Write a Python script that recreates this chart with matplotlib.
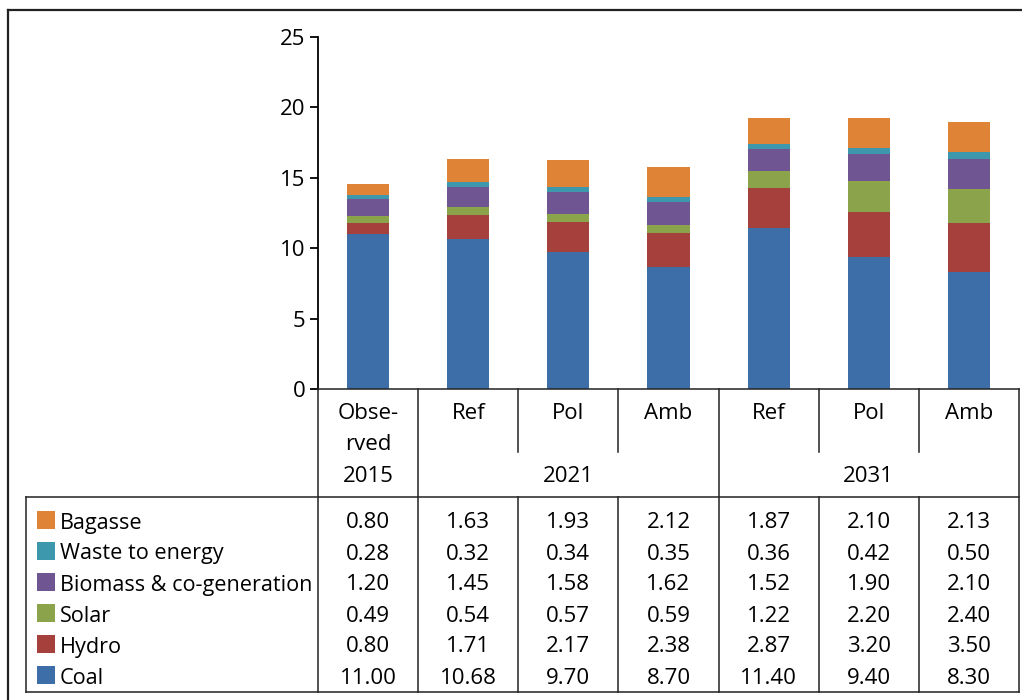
import matplotlib
matplotlib.use("Agg")
import matplotlib.pyplot as plt
from matplotlib.patches import Rectangle
import numpy as np

plt.rcParams['font.family'] = ['Open Sans', 'DejaVu Sans']

# ---- data ----
scenarios = ["Obse-\nrved", "Ref", "Pol", "Amb", "Ref", "Pol", "Amb"]
years = ["2015", "2021", "2031"]
year_spans = [(0, 1), (1, 4), (4, 7)]
series_names = ["Coal", "Hydro", "Solar", "Biomass & co-generation", "Waste to energy", "Bagasse"]
coal = [11.00, 10.68, 9.70, 8.70, 11.40, 9.40, 8.30]
hydro = [0.80, 1.71, 2.17, 2.38, 2.87, 3.20, 3.50]
solar = [0.49, 0.54, 0.57, 0.59, 1.22, 2.20, 2.40]
biomass = [1.20, 1.45, 1.58, 1.62, 1.52, 1.90, 2.10]
waste = [0.28, 0.32, 0.34, 0.35, 0.36, 0.42, 0.50]
bagasse = [0.80, 1.63, 1.93, 2.12, 1.87, 2.10, 2.13]
colors = ["#3D6EA7", "#A6403D", "#8BA44B", "#6F5592", "#3D97AD", "#DF8436"]
yticks = [0, 5, 10, 15, 20, 25]

series = [coal, hydro, solar, biomass, waste, bagasse]

W, H = 1022, 700
fig = plt.figure(figsize=(W / 100, H / 100), dpi=100)

# layout in pixels
x0, x1 = 318, 1019
y_axis_top, y_axis_bot = 37, 389
n = len(scenarios)
colw = (x1 - x0) / n

def fx(px):
    return px / W

def fy(py):
    return 1 - py / H

ax = fig.add_axes([fx(x0), fy(y_axis_bot), fx(x1) - fx(x0), (y_axis_bot - y_axis_top) / H])
xs = np.arange(n) + 0.5
bottom = np.zeros(n)
for vals, c in zip(series, colors):
    ax.bar(xs, vals, width=0.42, bottom=bottom, color=c, linewidth=0)
    bottom += np.array(vals)
ax.set_xlim(0, n)
ax.set_ylim(0, 25)
ax.set_yticks(yticks)
ax.set_yticklabels([str(t) for t in yticks], fontsize=16)
ax.set_xticks([])
for s in ["top", "right", "bottom"]:
    ax.spines[s].set_visible(False)
ax.spines["left"].set_linewidth(1.3)
ax.tick_params(axis="y", direction="out", length=6, width=1.3, pad=3)

# overlay for table
ov = fig.add_axes([0, 0, 1, 1])
ov.set_xlim(0, W)
ov.set_ylim(H, 0)
ov.axis("off")
ov.patch.set_alpha(0)

lw = 1.1
lc = "#222222"
# outer frame
ov.plot([8, W + 5], [10, 10], color=lc, lw=1.6)
ov.plot([8, 8], [10, H + 5], color=lc, lw=1.6)

head_top, head_mid, head_bot = 389, 452, 497
tab_left, tab_bot = 26, 692
cols = [x0 + i * colw for i in range(n + 1)]

ov.plot([x0, x1], [head_top, head_top], color=lc, lw=lw)
ov.plot([tab_left, x1], [head_bot, head_bot], color=lc, lw=lw)
ov.plot([tab_left, x1], [tab_bot, tab_bot], color=lc, lw=lw)
ov.plot([tab_left, tab_left], [head_bot, tab_bot], color=lc, lw=lw)
boundaries = set()
for a, b in year_spans:
    boundaries.add(a)
    boundaries.add(b)
for i, cx in enumerate(cols):
    if i in boundaries:
        ov.plot([cx, cx], [head_top, tab_bot], color=lc, lw=lw)
    else:
        ov.plot([cx, cx], [head_top, head_mid], color=lc, lw=lw)
        ov.plot([cx, cx], [head_bot, tab_bot], color=lc, lw=lw)

fs = 16
dy = 3  # baseline correction
for i, s in enumerate(scenarios):
    cx = (cols[i] + cols[i + 1]) / 2
    ov.text(cx, 403, s, ha="center", va="top", fontsize=fs, linespacing=1.6)
for (a, b), yr in zip(year_spans, years):
    cx = (cols[a] + cols[b]) / 2
    ov.text(cx, 474 + dy, yr, ha="center", va="center", fontsize=fs)

row_y0, row_dy = 520, 31
for r, k in enumerate(range(len(series) - 1, -1, -1)):
    y = row_y0 + r * row_dy
    ov.add_patch(Rectangle((37, y - 9), 18, 18, color=colors[k], lw=0))
    ov.text(60, y + dy, series_names[k], ha="left", va="center", fontsize=15.6)
    for i, v in enumerate(series[k]):
        cx = (cols[i] + cols[i + 1]) / 2
        ov.text(cx, y + dy, f"{v:.2f}", ha="center", va="center", fontsize=fs)

fig.savefig("out.png", dpi=100)
